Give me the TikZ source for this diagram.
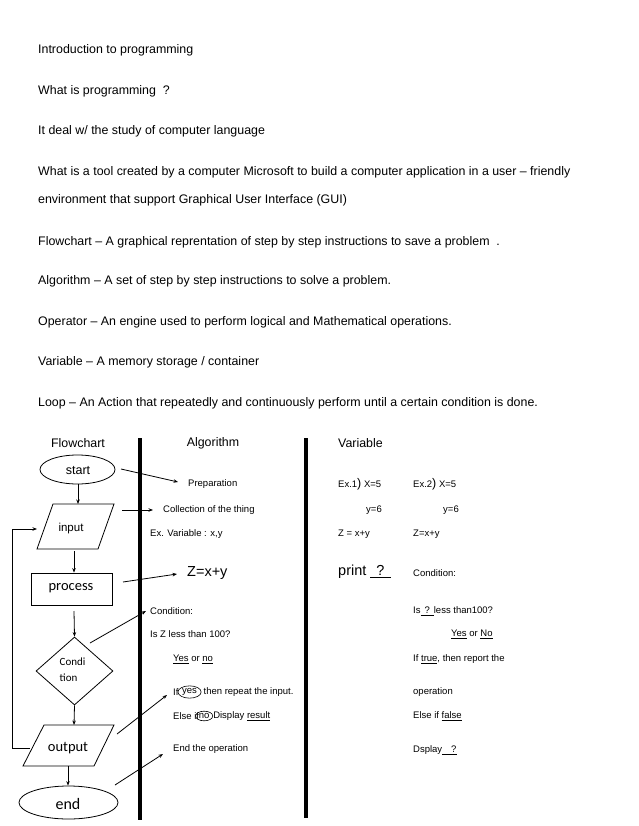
\documentclass[tikz,border=0pt]{standalone}
\usepackage{fontspec}
\setmainfont{Liberation Sans}
\newfontfamily\calfont{Carlito}
\usetikzlibrary{arrows.meta,shapes.geometric}
\begin{document}
\begin{tikzpicture}[x=1pt,y=-1pt,
  line/.style={line width=0.8pt},
  arr/.style={line width=0.8pt,-{Stealth[length=4.5pt,width=3.5pt]}},
  bar/.style={line width=3.5pt},
  body/.style={anchor=west,inner sep=0pt,font=\fontsize{12.4}{14}\selectfont},
  small/.style={anchor=west,inner sep=0pt,font=\fontsize{9.5}{11}\selectfont},
  big/.style={anchor=west,inner sep=0pt,font=\fontsize{14.5}{16}\selectfont},
  circ/.style={ellipse,draw,line width=0.6pt,inner sep=0.8pt,anchor=west,font=\fontsize{9.5}{11}\selectfont},
  shapetxt/.style={inner sep=0pt,font=\calfont\fontsize{14.5}{16}\selectfont},
]
\useasboundingbox (0,0) rectangle (638,826);
\fill[white] (0,0) rectangle (638,826);

% ---- upper text ----
\node[body] (t1) at (38,50) {Introduction to programming};
\node[body] (t2) at (38,91) {What is programming\ \ ?};
\node[body] (t3) at (38,131) {It deal w/ the study of computer language};
\node[body] (t4) at (38,172) {What is a tool created by a computer Microsoft to build a computer application\ in a user -- friendly};
\node[body] (t5) at (38,200) {environment that support Graphical User Interface\ (GUI)};
\node[body] (t6) at (38,242) {Flowchart -- A graphical\ reprentation of step by step instructions to save a problem\ \ .};
\node[body] (t7) at (38,281) {Algorithm\ -- A set of step by step instructions to solve a problem.};
\node[body] (t8) at (38,322) {Operator -- An engine used to perform logical\ and Mathematical operations.};
\node[body] (t9) at (38,362) {Variable -- A memory storage / container};
\node[body] (t10) at (38,403) {Loop -- An Action that repeatedly and continuously perform until a certain condition is done.};

% ---- column headers and bars ----
\node[body,anchor=center] (hflow) at (78,443) {Flowchart};
\node[body,anchor=center] (halg) at (213,443) {Algorithm};
\node[body] (hvar) at (338,443) {Variable};
\coordinate (b1t) at (140,438); \coordinate (b1b) at (140,820);
\coordinate (b2t) at (306,438); \coordinate (b2b) at (306,818);
\draw[bar] (b1t) -- (b1b);
\draw[bar] (b2t) -- (b2b);

% ---- flowchart ----
\node[ellipse,draw,line,minimum width=75pt,minimum height=29pt,inner sep=0pt] (start) at (77.5,469.5) {};
\node[inner sep=0pt,font=\fontsize{12.5}{14}\selectfont] (starttxt) at (78,471) {start};

\draw[line] (53,504) -- (114,504) -- (98,549) -- (37,549) -- cycle;
\node[inner sep=0pt,font=\fontsize{11.5}{14}\selectfont] (input) at (71,529) {input};
\coordinate (intop) at (78,504);
\coordinate (inbot) at (74,551);
\coordinate (inw) at (37,529);
\coordinate (ine) at (122,510);

\node[draw,line,minimum width=81pt,minimum height=32pt,inner sep=0pt] (proc) at (71.5,589) {};
\node[shapetxt] (proctxt) at (71,588) {process};

\node[diamond,draw,line,minimum width=77pt,minimum height=68pt,inner sep=0pt] (cond) at (74.5,671) {};
\node[anchor=north west,inner sep=0pt,align=left,font=\calfont\fontsize{11}{16}\selectfont] (condtxt) at (59.5,658) {Condi\\tion};

\draw[line] (44,725) -- (114,725) -- (94,766) -- (23,766) -- cycle;
\node[shapetxt] (output) at (68,748) {output};
\coordinate (outtop) at (74,725);
\coordinate (outbot) at (68,766);
\coordinate (outw) at (30,748);

\node[ellipse,draw,line,minimum width=99pt,minimum height=33pt,inner sep=0pt] (end) at (68.5,802.5) {};
\node[inner sep=0pt,font=\calfont\fontsize{16}{18}\selectfont] (endtxt) at (68,804) {end};

\coordinate (pbot) at (74,611);
\draw[arr] (start.south -| intop) -- (intop);
\draw[arr] (inbot) -- (proc.north -| inbot);
\draw[arr] (pbot) -- (cond.north);
\draw[arr] (cond.south) -- (outtop);
\draw[arr] (outbot) -- (end.north -| outbot);
\draw[arr] (outw) -- ++(-18,0) |- (inw);

% ---- algorithm column ----
\node[small] (prep) at (188,484) {Preparation};
\node[small] (coll) at (163,510) {Collection of the thing};
\node[small] (exv) at (150,534) {Ex. Variable : x,y};
\node[big] (zxy) at (187,573) {Z=x+y};
\node[small] (condl) at (150,611) {Condition:};
\node[small] (isz) at (150,634) {Is Z less than 100?};
\node[small] (yesno) at (173,659) {\underline{Yes} or \underline{no}};
\node[small] (ifw) at (173,692) {If};
\node[circ] (yes1) at ([xshift=-1pt]ifw.east) {yes};
\node[small] (rep) at ([xshift=2pt]yes1.east) {then repeat the input.};
\node[small] (elsew) at (173,716) {Else if};
\node[circ] (no1) at ([xshift=-4pt]elsew.east) {no};
\node[small] (disp) at (no1.east) {Display \underline{result}};
\node[small] (endop) at (173,749) {End the operation};

\coordinate (sa) at (121,469);
\coordinate (pa) at (178,482);
\coordinate (ca) at (153,510);
\coordinate (pra) at (123,582);
\coordinate (za) at (177,574);
\coordinate (da) at (90,643);
\coordinate (cda) at (146,611);
\coordinate (oa) at (117,734);
\coordinate (ya) at (167,695);
\coordinate (ea) at (115,785);
\coordinate (eoa) at (163,754);
\draw[arr] (sa) -- (pa);
\draw[arr] (ine) -- (ca);
\draw[arr] (pra) -- (za);
\draw[arr] (da) -- (cda);
\draw[arr] (oa) -- (ya);
\draw[arr] (ea) -- (eoa);

% ---- variable column ----
\node[small] (ex1) at (338,484) {Ex.1{\fontsize{12.5}{12}\selectfont)} X=5};
\node[small] (ex2) at (413,484) {Ex.2{\fontsize{12.5}{12}\selectfont)} X=5};
\node[small] (y1) at (366,510) {y=6};
\node[small] (y2) at (443,510) {y=6};
\node[small] (z1) at (338,534) {Z = x+y};
\node[small] (z2) at (413,534) {Z=x+y};
\node[big] (print) at (338,572) {print \underline{\hspace{6pt}?\hspace{6pt}}};
\node[small] (cond2) at (413,573) {Condition:};
\node[small] (is2) at (413,611) {Is\underline{\hspace{4pt}?\hspace{4pt}}less than100?};
\node[small] (yn2) at (451,634) {\underline{Yes} or \underline{No}};
\node[small] (iftrue) at (413,659) {If \underline{true}, then report the};
\node[small] (oper) at (413,692) {operation};
\node[small] (elsef) at (413,716) {Else if \underline{false}};
\node[small] (dspl) at (413,750) {Dsplay\underline{\hspace{9pt}?}};
\end{tikzpicture}
\end{document}
